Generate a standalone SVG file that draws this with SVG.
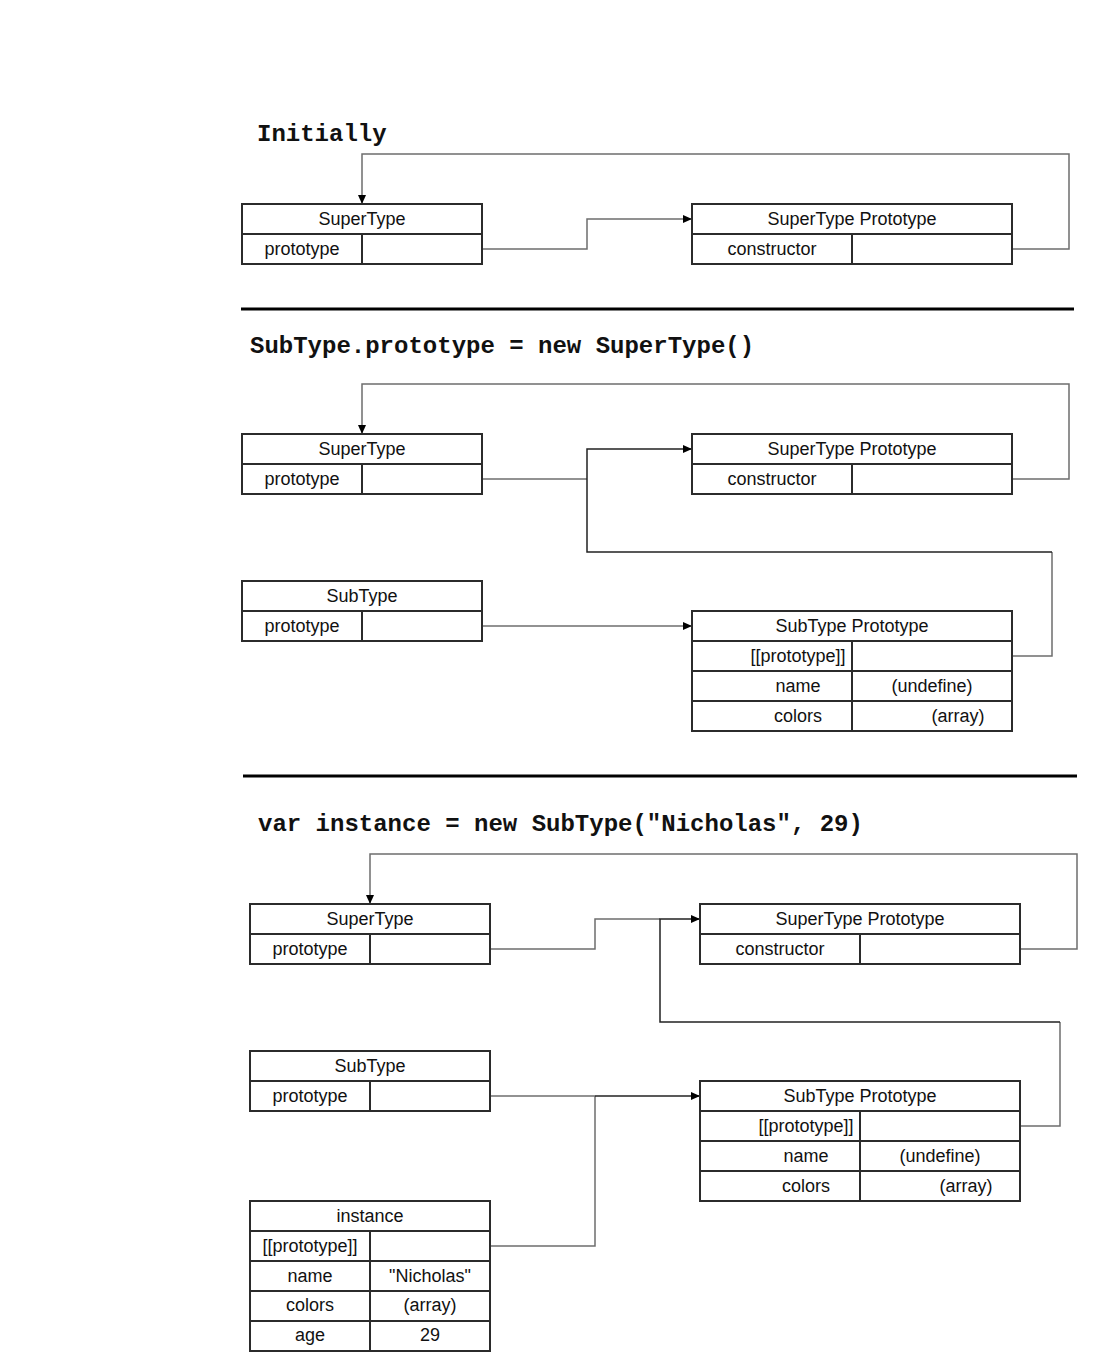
<svg xmlns="http://www.w3.org/2000/svg" width="1102" height="1370" viewBox="0 0 1102 1370">
<style>
.box{fill:#fff;stroke:#2b2b2b;stroke-width:2}
.div{stroke:#2b2b2b;stroke-width:2;fill:none}
.t{font-family:"Liberation Sans",Arial,sans-serif;font-size:18px;fill:#111;text-anchor:middle}
.h{font-family:"Liberation Mono","Courier New",monospace;font-weight:bold;font-size:24px;fill:#111}
.sep{stroke:#000;stroke-width:3}
.c{fill:none;stroke:#6e6e6e;stroke-width:1.5}
.cd{fill:none;stroke:#222;stroke-width:1.5}
</style>
<defs>
<marker id="arr" markerUnits="userSpaceOnUse" markerWidth="10" markerHeight="9" refX="9" refY="4" orient="auto">
<path d="M0,0 L9,4 L0,8 z" fill="#000"/>
</marker>
</defs>

<text class="h" x="257" y="141">Initially</text>
<line class="sep" x1="241" y1="309" x2="1074" y2="309"/>
<text class="h" x="250" y="353">SubType.prototype = new SuperType()</text>
<line class="sep" x1="243" y1="776" x2="1077" y2="776"/>
<text class="h" x="258" y="831">var instance = new SubType("Nicholas", 29)</text>

<g id="connectors">
<polyline class="c" points="482,249 587,249 587,219 692,219" marker-end="url(#arr)"/>
<polyline class="c" points="1012,249 1069,249 1069,154 362,154 362,204" marker-end="url(#arr)"/>
<polyline class="c" points="1012,479 1069,479 1069,384 362,384 362,434" marker-end="url(#arr)"/>
<polyline class="c" points="482,479 587,479"/>
<polyline class="c" points="1012,656 1052,656 1052,552"/>
<polyline class="cd" points="1052,552 587,552 587,449 692,449" marker-end="url(#arr)"/>
<polyline class="c" points="482,626 692,626" marker-end="url(#arr)"/>
<polyline class="c" points="1020,949 1077,949 1077,854 370,854 370,904" marker-end="url(#arr)"/>
<polyline class="c" points="490,949 595,949 595,919 660,919"/>
<polyline class="c" points="1020,1126 1060,1126 1060,1022"/>
<polyline class="cd" points="1060,1022 660,1022 660,919 700,919" marker-end="url(#arr)"/>
<polyline class="c" points="490,1096 595,1096"/>
<polyline class="c" points="490,1246 595,1246 595,1096"/>
<polyline class="cd" points="595,1096 700,1096" marker-end="url(#arr)"/>
</g>

<g id="s1-supertype">
<rect class="box" x="242" y="204" width="240" height="60"/>
<line class="div" x1="242" y1="234" x2="482" y2="234"/>
<line class="div" x1="362" y1="234" x2="362" y2="264"/>
<text class="t" x="362" y="225">SuperType</text>
<text class="t" x="302" y="255">prototype</text>
</g>
<g id="s1-supertype-prototype">
<rect class="box" x="692" y="204" width="320" height="60"/>
<line class="div" x1="692" y1="234" x2="1012" y2="234"/>
<line class="div" x1="852" y1="234" x2="852" y2="264"/>
<text class="t" x="852" y="225">SuperType Prototype</text>
<text class="t" x="772" y="255">constructor</text>
</g>

<g id="s2-supertype">
<rect class="box" x="242" y="434" width="240" height="60"/>
<line class="div" x1="242" y1="464" x2="482" y2="464"/>
<line class="div" x1="362" y1="464" x2="362" y2="494"/>
<text class="t" x="362" y="455">SuperType</text>
<text class="t" x="302" y="485">prototype</text>
</g>
<g id="s2-supertype-prototype">
<rect class="box" x="692" y="434" width="320" height="60"/>
<line class="div" x1="692" y1="464" x2="1012" y2="464"/>
<line class="div" x1="852" y1="464" x2="852" y2="494"/>
<text class="t" x="852" y="455">SuperType Prototype</text>
<text class="t" x="772" y="485">constructor</text>
</g>
<g id="s2-subtype">
<rect class="box" x="242" y="581" width="240" height="60"/>
<line class="div" x1="242" y1="611" x2="482" y2="611"/>
<line class="div" x1="362" y1="611" x2="362" y2="641"/>
<text class="t" x="362" y="602">SubType</text>
<text class="t" x="302" y="632">prototype</text>
</g>
<g id="s2-subtype-prototype">
<rect class="box" x="692" y="611" width="320" height="120"/>
<line class="div" x1="692" y1="641" x2="1012" y2="641"/>
<line class="div" x1="692" y1="671" x2="1012" y2="671"/>
<line class="div" x1="692" y1="701" x2="1012" y2="701"/>
<line class="div" x1="852" y1="641" x2="852" y2="731"/>
<text class="t" x="852" y="632">SubType Prototype</text>
<text class="t" x="798" y="662">[[prototype]]</text>
<text class="t" x="798" y="692">name</text>
<text class="t" x="932" y="692">(undefine)</text>
<text class="t" x="798" y="722">colors</text>
<text class="t" x="958" y="722">(array)</text>
</g>

<g id="s3-supertype">
<rect class="box" x="250" y="904" width="240" height="60"/>
<line class="div" x1="250" y1="934" x2="490" y2="934"/>
<line class="div" x1="370" y1="934" x2="370" y2="964"/>
<text class="t" x="370" y="925">SuperType</text>
<text class="t" x="310" y="955">prototype</text>
</g>
<g id="s3-supertype-prototype">
<rect class="box" x="700" y="904" width="320" height="60"/>
<line class="div" x1="700" y1="934" x2="1020" y2="934"/>
<line class="div" x1="860" y1="934" x2="860" y2="964"/>
<text class="t" x="860" y="925">SuperType Prototype</text>
<text class="t" x="780" y="955">constructor</text>
</g>
<g id="s3-subtype">
<rect class="box" x="250" y="1051" width="240" height="60"/>
<line class="div" x1="250" y1="1081" x2="490" y2="1081"/>
<line class="div" x1="370" y1="1081" x2="370" y2="1111"/>
<text class="t" x="370" y="1072">SubType</text>
<text class="t" x="310" y="1102">prototype</text>
</g>
<g id="s3-subtype-prototype">
<rect class="box" x="700" y="1081" width="320" height="120"/>
<line class="div" x1="700" y1="1111" x2="1020" y2="1111"/>
<line class="div" x1="700" y1="1141" x2="1020" y2="1141"/>
<line class="div" x1="700" y1="1171" x2="1020" y2="1171"/>
<line class="div" x1="860" y1="1111" x2="860" y2="1201"/>
<text class="t" x="860" y="1102">SubType Prototype</text>
<text class="t" x="806" y="1132">[[prototype]]</text>
<text class="t" x="806" y="1162">name</text>
<text class="t" x="940" y="1162">(undefine)</text>
<text class="t" x="806" y="1192">colors</text>
<text class="t" x="966" y="1192">(array)</text>
</g>
<g id="s3-instance">
<rect class="box" x="250" y="1201" width="240" height="150"/>
<line class="div" x1="250" y1="1231" x2="490" y2="1231"/>
<line class="div" x1="250" y1="1261" x2="490" y2="1261"/>
<line class="div" x1="250" y1="1291" x2="490" y2="1291"/>
<line class="div" x1="250" y1="1321" x2="490" y2="1321"/>
<line class="div" x1="370" y1="1231" x2="370" y2="1351"/>
<text class="t" x="370" y="1222">instance</text>
<text class="t" x="310" y="1252">[[prototype]]</text>
<text class="t" x="310" y="1282">name</text>
<text class="t" x="430" y="1282">"Nicholas"</text>
<text class="t" x="310" y="1311">colors</text>
<text class="t" x="430" y="1311">(array)</text>
<text class="t" x="310" y="1341">age</text>
<text class="t" x="430" y="1341">29</text>
</g>
</svg>
